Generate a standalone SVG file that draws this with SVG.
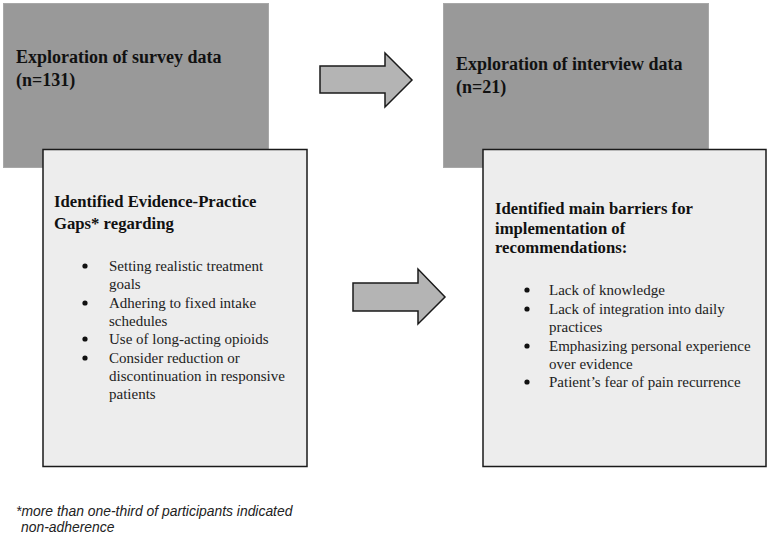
<svg xmlns="http://www.w3.org/2000/svg" width="771" height="547" viewBox="0 0 771 547">
<style>
.grey{fill:#999999;stroke:#a8a8a8;stroke-width:1}
.white{fill:#ededed;stroke:#1a1a1a;stroke-width:1.5}
.arrow{fill:#b4b4b4;stroke:#1a1a1a;stroke-width:1.5;stroke-linejoin:miter}
.t{font-family:"Liberation Serif",serif;font-weight:bold;font-size:18px;fill:#111}
.h{font-family:"Liberation Serif",serif;font-weight:bold;font-size:16.7px;fill:#111}
.b{font-family:"Liberation Serif",serif;font-size:15px;fill:#222}
.dot{fill:#111}
.f{font-family:"Liberation Sans",sans-serif;font-style:italic;font-size:13.9px;fill:#222}
</style>
<rect width="771" height="547" fill="#fff"/>
<g id="survey">
<rect class="grey" x="3.5" y="3.5" width="265" height="164"/>
<text class="t" x="16" y="63">Exploration of survey data</text>
<text class="t" x="16" y="86">(n=131)</text>
</g>
<g id="interview">
<rect class="grey" x="443.5" y="3.5" width="265" height="164"/>
<text class="t" x="456" y="70">Exploration of interview data</text>
<text class="t" x="456" y="93">(n=21)</text>
</g>
<g id="gaps">
<rect class="white" x="43" y="149.5" width="264" height="317"/>
<text class="h" x="54" y="207">Identified Evidence-Practice</text>
<text class="h" x="54" y="229">Gaps* regarding</text>
<g class="dot">
<circle cx="85" cy="266" r="2.6"/><circle cx="85" cy="303" r="2.6"/><circle cx="85" cy="339" r="2.6"/><circle cx="85" cy="358" r="2.6"/>
</g>
<g class="b">
<text x="109" y="271">Setting realistic treatment</text>
<text x="109" y="289">goals</text>
<text x="109" y="308">Adhering to fixed intake</text>
<text x="109" y="326">schedules</text>
<text x="109" y="344">Use of long-acting opioids</text>
<text x="109" y="363">Consider reduction or</text>
<text x="109" y="381">discontinuation in responsive</text>
<text x="109" y="399">patients</text>
</g>
</g>
<g id="barriers">
<rect class="white" x="483" y="149.5" width="283" height="317"/>
<text class="h" x="495" y="214">Identified main barriers for</text>
<text class="h" x="495" y="234">implementation of</text>
<text class="h" x="495" y="253">recommendations:</text>
<g class="dot">
<circle cx="527" cy="290" r="2.6"/><circle cx="527" cy="309" r="2.6"/><circle cx="527" cy="346" r="2.6"/><circle cx="527" cy="382" r="2.6"/>
</g>
<g class="b">
<text x="549" y="295">Lack of knowledge</text>
<text x="549" y="314">Lack of integration into daily</text>
<text x="549" y="332">practices</text>
<text x="549" y="351">Emphasizing personal experience</text>
<text x="549" y="369">over evidence</text>
<text x="549" y="387">Patient’s fear of pain recurrence</text>
</g>
</g>
<g id="connectors">
<polygon class="arrow" points="320,66 385,66 385,53 412,80 385,107 385,93 320,93"/>
<polygon class="arrow" points="353,283 418,283 418,269 445,297 418,324 418,311 353,311"/>
</g>
<g id="footnote">
<text class="f" x="16" y="516">*more than one-third of participants indicated</text>
<text class="f" x="21" y="532">non-adherence</text>
</g>
</svg>
